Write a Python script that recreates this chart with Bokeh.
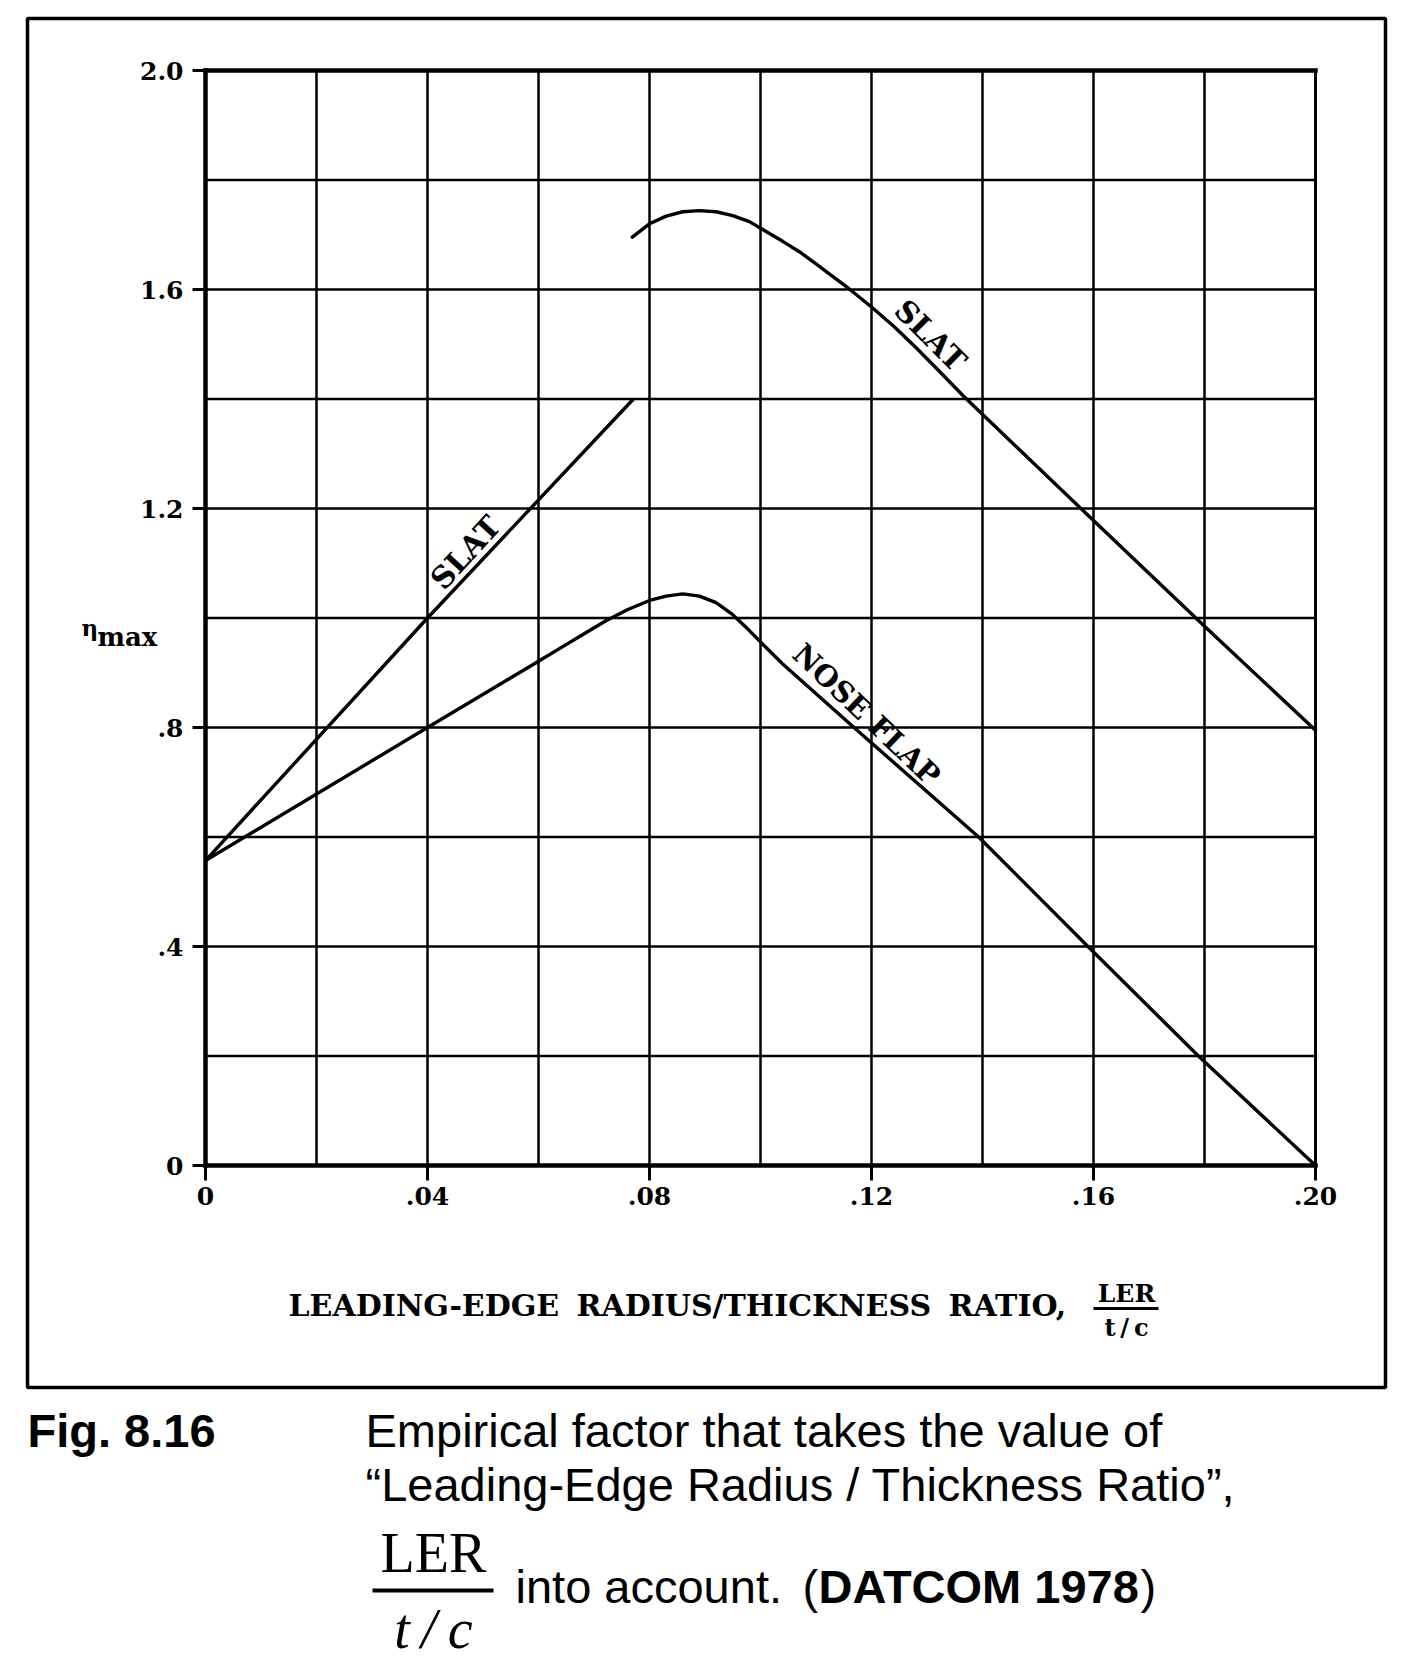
from bokeh.plotting import figure
from bokeh.models import Range1d
from bokeh.core.properties import value
from bokeh.embed import file_html
from bokeh.resources import INLINE

# ---------------- data ----------------
x_ticks = [0.0, 0.04, 0.08, 0.12, 0.16, 0.20]
x_tick_labels = ["0", ".04", ".08", ".12", ".16", ".20"]
y_ticks = [0.0, 0.4, 0.8, 1.2, 1.6, 2.0]
y_tick_labels = ["0", ".4", ".8", "1.2", "1.6", "2.0"]
x_grid = [0.00, 0.02, 0.04, 0.06, 0.08, 0.10, 0.12, 0.14, 0.16, 0.18, 0.20]
y_grid = [0.0, 0.2, 0.4, 0.6, 0.8, 1.0, 1.2, 1.4, 1.6, 1.8, 2.0]

# SLAT, rising branch
slat_rise_x = [0.0, 0.04, 0.0771]
slat_rise_y = [0.557, 1.00, 1.40]
# SLAT, upper branch
slat_top_x = [0.0769, 0.080, 0.083, 0.086, 0.089, 0.092, 0.095, 0.098, 0.101, 0.104,
              0.107, 0.110, 0.113, 0.116, 0.120, 0.124, 0.128, 0.132, 0.1366,
              0.160, 0.180, 0.200]
slat_top_y = [1.6955, 1.720, 1.734, 1.742, 1.744, 1.742, 1.735, 1.724, 1.706, 1.688,
              1.669, 1.647, 1.624, 1.601, 1.568, 1.533, 1.494, 1.453, 1.405,
              1.178, 0.985, 0.795]
# NOSE FLAP
flap_x = [0.0, 0.040, 0.060, 0.064, 0.068, 0.072, 0.076, 0.080, 0.083, 0.086, 0.089,
          0.092, 0.095, 0.098, 0.101, 0.104, 0.108, 0.1174, 0.1393, 0.159, 0.1789, 0.200]
flap_y = [0.557, 0.800, 0.921, 0.9455, 0.970, 0.994, 1.015, 1.032, 1.040, 1.044, 1.040,
          1.028, 1.006, 0.977, 0.946, 0.916, 0.880, 0.795, 0.600, 0.400, 0.200, 0.000]

# ---------------- geometry (page pixels -> data units) ----------------
W, H = 1410, 1670
PX_X = 5550.0          # pixels per unit of LER/(t/c)
PX_Y = 547.5           # pixels per unit of eta_max
ORG_X, ORG_Y = 205.0, 1165.0   # page pixel of the data origin


def dx(px):
    return (px - ORG_X) / PX_X


def dy(py):
    return (ORG_Y - py) / PX_Y


p = figure(width=W, height=H, output_backend="svg", toolbar_location=None,
           x_range=Range1d(dx(0), dx(W)), y_range=Range1d(dy(H), dy(0)),
           x_axis_type=None, y_axis_type=None, min_border=0,
           min_border_left=0, min_border_right=0, min_border_top=0, min_border_bottom=0)
p.background_fill_color = "white"
p.border_fill_color = "white"
p.outline_line_color = None

SERIF = "DejaVu Serif"
SANS = "Liberation Sans"

# ---- grid ----
p.segment(x0=x_grid, y0=[0.0] * len(x_grid), x1=x_grid, y1=[2.0] * len(x_grid),
          line_color="black", line_width=2.5)
p.segment(x0=[0.0] * len(y_grid), y0=y_grid, x1=[0.2] * len(y_grid), y1=y_grid,
          line_color="black", line_width=2.7)

# ---- frame / axis lines ----
p.segment(x0=[0.0, 0.0, 0.0, 0.2], y0=[0.0, 0.0, 2.0, 0.0],
          x1=[0.0, 0.2, 0.2, 0.2], y1=[2.0, 0.0, 2.0, 2.0],
          line_color="black", line_width=[4.5, 4.5, 4.5, 3.0], line_cap="square")

# ---- ticks ----
p.segment(x0=x_ticks, y0=[0.0] * len(x_ticks), x1=x_ticks,
          y1=[dy(ORG_Y + 15)] * len(x_ticks), line_color="black", line_width=3)
p.segment(x0=[0.0] * len(y_ticks), y0=y_ticks, x1=[dx(ORG_X - 13)] * len(y_ticks),
          y1=y_ticks, line_color="black", line_width=3)

# ---- tick labels ----
p.text(x=x_ticks, y=[dy(ORG_Y + 21)] * len(x_ticks), text=x_tick_labels,
       text_font=value(SERIF), text_font_style="bold", text_font_size="25px",
       text_align="center", text_baseline="top", text_color="black")
p.text(x=[dx(ORG_X - 22)] * len(y_ticks), y=y_ticks, text=y_tick_labels,
       text_font=value(SERIF), text_font_style="bold", text_font_size="25px",
       text_align="right", text_baseline="middle", text_color="black")

# ---- curves ----
p.line(slat_rise_x, slat_rise_y, line_color="black", line_width=3.4, line_join="round")
p.line(slat_top_x, slat_top_y, line_color="black", line_width=3.4, line_join="round",
       line_cap="round")
p.line(flap_x, flap_y, line_color="black", line_width=3.4, line_join="round")


def txt(x, y, t, size, font=SERIF, style="bold", align="left", baseline="middle",
        angle=0.0):
    p.text(x=[x], y=[y], text=[t], text_font=value(font), text_font_style=style,
           text_font_size=size, text_align=align, text_baseline=baseline,
           angle=angle, angle_units="deg", text_color="black")


# curve labels
txt(dx(465), dy(552), "SLAT", "30px", align="center", angle=47.5)
txt(dx(930), dy(335), "SLAT", "30px", align="center", angle=-45.0)
txt(dx(866), dy(714), "NOSE FLAP", "29px", align="center", angle=-43.5)

# eta_max
txt(dx(81), dy(627), "\u03b7", "23px", style="bold")
txt(dx(97), dy(636), "max", "26px")

# x-axis title
txt(dx(288), dy(1305), "LEADING-EDGE", "30px")
txt(dx(576), dy(1305), "RADIUS/THICKNESS", "30px")
txt(dx(948), dy(1305), "RATIO,", "30px")
txt(dx(1126), dy(1293), "LER", "25px", align="center")
p.segment(x0=[dx(1093)], y0=[dy(1308)], x1=[dx(1158)], y1=[dy(1308)],
          line_color="black", line_width=3)
txt(dx(1126), dy(1327), "t\u2009/\u2009c", "24px", align="center")

# outer frame
p.quad(left=[dx(27)], right=[dx(1385)], top=[dy(18)], bottom=[dy(1387)],
       fill_alpha=0.0, line_color="black", line_width=3.5)

# caption
txt(dx(27), dy(1430), "Fig. 8.16", "47px", font=SANS, style="bold")
txt(dx(365), dy(1430), "Empirical factor that takes the value of", "47px", font=SANS,
    style="normal")
txt(dx(365), dy(1484), "\u201cLeading-Edge Radius / Thickness Ratio\u201d,", "47px",
    font=SANS, style="normal")
txt(dx(433), dy(1552), "LER", "56px", font="Liberation Serif", style="normal",
    align="center")
p.segment(x0=[dx(372)], y0=[dy(1590)], x1=[dx(493)], y1=[dy(1590)],
          line_color="black", line_width=4)
txt(dx(433), dy(1628), "t\u2009/\u2009c", "56px", font="Liberation Serif", style="italic",
    align="center")
txt(dx(515), dy(1586), "into account.", "47px", font=SANS, style="normal")
txt(dx(802), dy(1586), "(", "47px", font=SANS, style="normal")
txt(dx(818), dy(1586), "DATCOM 1978", "47px", font=SANS, style="bold")
txt(dx(1140), dy(1586), ")", "47px", font=SANS, style="normal")

open("out.html", "w").write(file_html(p, INLINE))
